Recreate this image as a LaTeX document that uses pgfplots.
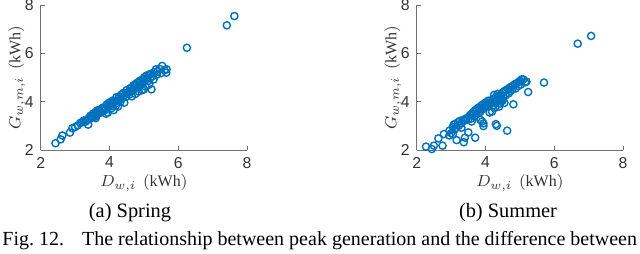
\documentclass[border=0pt]{standalone}
\usepackage{fontspec}
\setmainfont{Liberation Serif}
\setsansfont{Liberation Sans}
\usepackage{pgfplots}
\pgfplotsset{compat=1.18}
\definecolor{mblue}{rgb}{0,0.447,0.741}
\definecolor{axgray}{gray}{0.45}
\definecolor{txgray}{gray}{0.2}
\pgfplotsset{
  myaxis/.style={
    scale only axis, width=103.2pt, height=72.5pt,
    xmin=2, xmax=8, ymin=2, ymax=8,
    xtick={2,4,6,8}, ytick={2,4,6,8},
    axis x line*=bottom, axis y line*=left,
    axis line style={draw=axgray, line width=0.4pt},
    tick style={draw=axgray, line width=0.4pt},
    tick align=inside, major tick length=2.2pt,
    /pgf/number format/assume math mode=true,
    tick label style={font=\sffamily\fontsize{7.9}{9}\selectfont, text=txgray},
    label style={font=\fontsize{8}{9}\selectfont, text=txgray},
    xlabel={$D_{w,i}\ \,(\mathrm{kWh})$},
    ylabel={$G_{w,m,i}\ \,(\mathrm{kWh})$},
    xlabel style={yshift=3.5pt},
    ylabel style={yshift=-7pt},
    clip=false,
  },
  mymark/.style={only marks, mark=o, mark size=1.8pt, draw=mblue, line width=0.7pt, mark options={draw=mblue}},
}
\begin{document}
\begin{tikzpicture}
\path[use as bounding box] (0,0) rectangle (320pt,126.5pt);
\begin{axis}[myaxis, at={(20.35pt,51.5pt)}, anchor=south west]
\addplot[mymark] table {
2.43 2.28
2.58 2.44
2.63 2.60
2.85 2.72
2.92 2.90
3.00 2.95
3.08 3.02
3.15 3.12
3.20 3.15
3.25 3.22
3.30 3.17
3.35 3.25
3.38 3.05
3.40 3.33
3.42 3.28
3.45 3.42
3.50 3.36
3.52 3.50
3.55 3.45
3.58 3.38
3.60 3.58
3.60 3.32
3.62 3.46
3.65 3.64
3.68 3.52
3.70 3.66
3.72 3.60
3.75 3.55
3.78 3.72
3.80 3.62
3.82 3.76
3.85 3.70
3.88 3.66
3.90 3.50
3.92 3.88
3.95 3.80
3.95 3.55
3.98 3.95
4.00 3.86
4.02 3.98
4.05 3.92
4.05 3.72
4.08 3.82
4.10 4.05
4.12 3.65
4.15 4.00
4.18 3.82
4.20 4.18
4.22 3.95
4.25 4.12
4.25 3.80
4.28 4.22
4.30 4.08
4.32 4.00
4.35 4.30
4.38 4.18
4.40 4.36
4.43 3.96
4.45 4.28
4.48 4.20
4.50 4.48
4.52 4.34
4.55 4.40
4.58 4.30
4.60 4.55
4.62 4.42
4.65 4.60
4.65 4.22
4.68 4.48
4.70 4.68
4.72 4.52
4.75 4.72
4.75 4.32
4.78 4.58
4.80 4.78
4.82 4.62
4.85 4.82
4.85 4.42
4.88 4.68
4.90 4.88
4.92 4.72
4.95 4.80
4.95 4.48
4.98 4.95
5.00 4.86
5.00 4.51
5.02 5.02
5.05 4.92
5.05 4.62
5.08 5.08
5.10 4.98
5.12 4.85
5.15 5.12
5.15 4.70
5.18 4.96
5.20 5.15
5.22 4.51
5.25 5.05
5.28 4.92
5.30 5.22
5.35 5.34
5.38 5.12
5.40 5.25
5.45 5.36
5.50 5.18
5.53 5.48
5.60 5.30
5.65 5.20
5.66 5.34
6.25 6.23
7.41 7.16
7.63 7.54
};
\end{axis}
\begin{axis}[myaxis, at={(208.35pt,51.5pt)}, anchor=south west]
\addplot[mymark] table {
2.27 2.14
2.44 2.04
2.50 2.18
2.63 2.48
2.75 2.18
2.79 2.66
2.95 2.80
2.95 2.60
3.00 2.70
3.05 2.95
3.05 2.65
3.08 3.05
3.10 2.85
3.12 3.08
3.15 2.92
3.16 2.41
3.20 3.15
3.22 3.00
3.25 3.20
3.30 3.10
3.30 2.92
3.35 3.25
3.37 2.32
3.40 2.51
3.40 3.22
3.45 3.32
3.50 2.73
3.50 3.28
3.55 3.45
3.58 3.30
3.60 3.50
3.60 3.18
3.62 3.42
3.65 3.58
3.68 3.38
3.70 2.51
3.70 3.64
3.72 3.45
3.75 3.70
3.78 3.52
3.80 3.76
3.82 3.68
3.85 3.58
3.85 3.25
3.88 3.84
3.90 3.68
3.90 3.18
3.92 3.88
3.94 2.99
3.94 3.10
3.95 3.74
3.98 3.94
4.00 3.80
4.02 3.98
4.05 3.85
4.08 4.04
4.10 3.90
4.12 3.55
4.15 3.95
4.19 3.59
4.20 4.08
4.22 3.85
4.25 4.12
4.25 4.28
4.28 3.95
4.28 3.75
4.30 3.07
4.30 4.18
4.30 3.95
4.32 4.02
4.33 3.00
4.35 4.22
4.35 4.32
4.38 4.05
4.40 4.25
4.40 4.10
4.40 3.80
4.42 3.92
4.45 4.30
4.45 4.00
4.48 4.12
4.50 4.38
4.50 4.05
4.52 4.20
4.55 4.44
4.55 3.95
4.58 4.25
4.60 4.48
4.63 2.80
4.65 4.52
4.68 4.35
4.70 4.58
4.72 4.45
4.75 4.62
4.78 4.50
4.80 4.66
4.81 3.89
4.85 4.72
4.88 4.55
4.90 4.76
4.95 4.65
4.97 4.82
5.00 4.86
5.02 4.70
5.05 4.92
5.10 4.92
5.15 4.80
5.19 4.83
5.24 4.40
5.70 4.79
6.68 6.40
7.07 6.72
};
\end{axis}
\node[anchor=base, font=\fontsize{10.2}{12}\selectfont] at (65pt,18pt) {(a)\ Spring};
\node[anchor=base, font=\fontsize{10.2}{12}\selectfont] at (254pt,18pt) {(b)\ Summer};
\node[anchor=base west, inner sep=0pt, font=\fontsize{10}{12}\selectfont] at (1pt,4pt) {Fig.~12.\hspace{0.9em}The relationship between peak generation and the difference between};
\end{tikzpicture}
\end{document}
